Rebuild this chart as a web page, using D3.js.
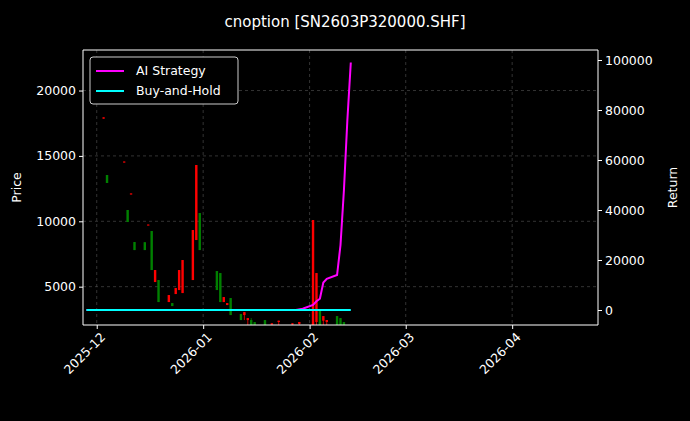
<!DOCTYPE html>
<html><head><meta charset="utf-8">
<script src="https://cdn.jsdelivr.net/npm/d3@7"></script>
<style>body{margin:0;background:#000}svg{display:block;font-family:"DejaVu Sans",sans-serif}</style>
</head><body>
<script>
// candles: date, open, high, low, close (red = close > open)
const candleDates = ["2025-12-03","2025-12-04","2025-12-09","2025-12-10","2025-12-11","2025-12-12","2025-12-15","2025-12-16","2025-12-17","2025-12-18","2025-12-19","2025-12-22","2025-12-23","2025-12-24","2025-12-25","2025-12-26","2025-12-29","2025-12-30","2025-12-31","2026-01-05","2026-01-06","2026-01-07","2026-01-08","2026-01-09","2026-01-12","2026-01-13","2026-01-14","2026-01-15","2026-01-16","2026-01-19","2026-01-21","2026-01-23","2026-01-27","2026-01-29","2026-02-02","2026-02-03","2026-02-04","2026-02-05","2026-02-06","2026-02-09","2026-02-10","2026-02-11","2026-02-12"];
const opens  = [17850,13540,14500,10865,12050,8415,8400,9700,9257,5355,5508,3825,3748,4437,4743,4513,5508,8568,10633,6196,6043,3825,3595,4131,2907,2830,2448,2448,2295,2448,2100,2300,2100,2150,2065,2300,3213,2400,2300,2754,2600,2295,2000];
const highs  = [17950,13540,14570,10865,12130,8415,8400,9750,9257,6273,5508,4360,3748,4896,6273,7038,9333,14305,10633,6196,6043,4207,3748,4131,2907,3060,2600,2600,2295,2448,2200,2400,2200,2300,10098,6043,3213,2754,2450,2754,2600,2295,2000];
const lows   = [17850,12930,14500,9945,12050,7800,7800,9700,6273,5355,3825,3825,3519,4437,4743,4513,5508,8568,7800,4743,3825,3825,3595,2830,2448,2448,2065,2065,1683,1683,1683,2000,1900,2000,1683,1683,1683,1683,1683,1683,1683,1683,1683];
const closes = [17950,12930,14570,9945,12130,7800,7800,9750,6273,6273,3825,4360,3519,4896,6273,7038,9333,14305,7800,4743,3825,4207,3748,2830,2448,3060,2600,2065,1683,1683,2200,2400,2200,2300,10098,6043,1683,2754,2450,1683,1683,1683,1683];

const lineDates = ["2025-11-28","2025-12-05","2025-12-12","2025-12-19","2025-12-26","2026-01-02","2026-01-09","2026-01-16","2026-01-23","2026-01-28","2026-01-30","2026-02-02","2026-02-03","2026-02-04","2026-02-05","2026-02-06","2026-02-09","2026-02-10","2026-02-11","2026-02-12","2026-02-13"];
const strategy = [0,0,0,0,0,0,0,0,0,0,500,2000,3500,4500,11000,12500,14000,26000,48000,76000,99000];
const buyHold  = [0,0,0,0,0,0,0,0,0,0,0,0,0,0,0,0,0,0,0,0,0];

const priceTicks = [5000,10000,15000,20000];
const returnTicks = [0,20000,40000,60000,80000,100000];
const dateTicks = ["2025-12-01","2026-01-01","2026-02-01","2026-03-01","2026-04-01"];

const W = 690, H = 421, L = 83, R = 598, T = 50, B = 325;
const pd = d3.utcParse("%Y-%m-%d");
const svg = d3.select("body").append("svg").attr("width", W).attr("height", H);
svg.append("rect").attr("width", W).attr("height", H).attr("fill", "#000");

const x = d3.scaleUtc([pd("2025-11-27"), pd("2026-04-26")], [L, R]);
const y = d3.scaleLinear([2070, 23100], [B, T]);
const y2 = d3.scaleLinear([-6000, 104000], [B, T]);

const grid = svg.append("g").attr("stroke", "#555").attr("stroke-dasharray", "3,3").attr("stroke-width", 0.6);
dateTicks.forEach(d => grid.append("line").attr("x1", x(pd(d))).attr("x2", x(pd(d))).attr("y1", T).attr("y2", B));
priceTicks.forEach(v => grid.append("line").attr("x1", L).attr("x2", R).attr("y1", y(v)).attr("y2", y(v)));

const plot = svg.append("g");
svg.append("clipPath").attr("id", "c").append("rect").attr("x", L).attr("y", T).attr("width", R - L).attr("height", B - T);
plot.attr("clip-path", "url(#c)");
candleDates.forEach((d, i) => {
  const cx = x(pd(d)), col = closes[i] >= opens[i] ? "#ff0000" : "#008000";
  plot.append("line").attr("x1", cx).attr("x2", cx).attr("y1", y(highs[i])).attr("y2", y(lows[i])).attr("stroke", col).attr("stroke-width", 0.8);
  const top = y(Math.max(opens[i], closes[i])), bot = y(Math.min(opens[i], closes[i]));
  plot.append("rect").attr("x", cx - 1.2).attr("width", 2.4).attr("y", top).attr("height", Math.max(bot - top, 1)).attr("fill", col);
});
const line = vals => d3.line().x((d, i) => x(pd(lineDates[i]))).y(d => y2(d))(vals);
plot.append("path").attr("d", line(strategy)).attr("fill", "none").attr("stroke", "#ff00ff").attr("stroke-width", 2);
plot.append("path").attr("d", line(buyHold)).attr("fill", "none").attr("stroke", "#00ffff").attr("stroke-width", 2);

const style = g => { g.selectAll("path,line").attr("stroke", "#fff"); g.selectAll("text").attr("fill", "#fff").attr("font-size", 12.5).attr("font-family", "DejaVu Sans"); };
svg.append("g").attr("transform", `translate(${L},0)`).call(d3.axisLeft(y).tickValues(priceTicks).tickSize(4).tickFormat(d3.format("d"))).call(style).call(g => g.select(".domain").attr("d", `M0,${T}V${B}`));
svg.append("g").attr("transform", `translate(${R},0)`).call(d3.axisRight(y2).tickValues(returnTicks).tickSize(4).tickFormat(d3.format("d"))).call(style).call(g => g.select(".domain").attr("d", `M0,${T}V${B}`));
svg.append("g").attr("transform", `translate(0,${B})`).call(d3.axisBottom(x).tickValues(dateTicks.map(pd)).tickSize(4).tickFormat(d3.utcFormat("%Y-%m"))).call(style)
  .call(g => g.select(".domain").attr("d", `M${L},0H${R}`))
  .call(g => g.selectAll(".tick text").attr("text-anchor", "end").attr("dy", 0).attr("transform", "translate(4,8) rotate(-45)"));
svg.append("line").attr("x1", L).attr("x2", R).attr("y1", T).attr("y2", T).attr("stroke", "#fff");

svg.append("text").attr("x", 345).attr("y", 27).attr("text-anchor", "middle").attr("fill", "#fff").attr("font-size", 15).text("cnoption [SN2603P320000.SHF]");
svg.append("text").attr("transform", `translate(21,${(T + B) / 2}) rotate(-90)`).attr("text-anchor", "middle").attr("fill", "#fff").attr("font-size", 12.5).text("Price");
svg.append("text").attr("transform", `translate(677,${(T + B) / 2}) rotate(-90)`).attr("text-anchor", "middle").attr("fill", "#fff").attr("font-size", 12.5).text("Return");

const lg = svg.append("g").attr("transform", "translate(90,57)");
lg.append("rect").attr("width", 148).attr("height", 47).attr("rx", 3).attr("fill", "#000").attr("stroke", "#ccc");
[["AI Strategy", "#ff00ff"], ["Buy-and-Hold", "#00ffff"]].forEach(([t, c], i) => {
  lg.append("line").attr("x1", 6).attr("x2", 34).attr("y1", 14 + i * 20).attr("y2", 14 + i * 20).attr("stroke", c).attr("stroke-width", 2);
  lg.append("text").attr("x", 46).attr("y", 18 + i * 20).attr("fill", "#fff").attr("font-size", 12.5).text(t);
});
</script>
</body></html>
